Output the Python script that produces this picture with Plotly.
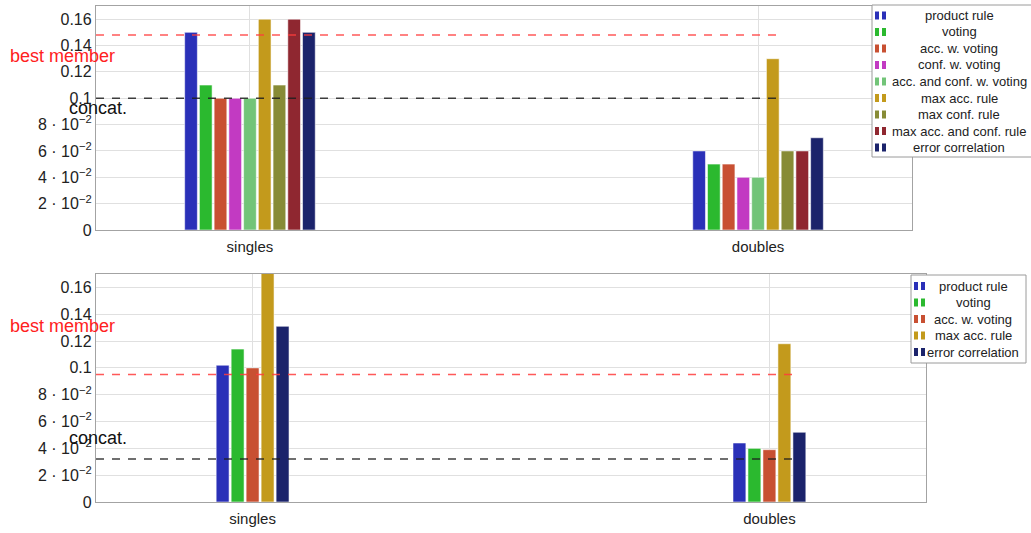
import plotly.graph_objects as go

# ---------------- data ----------------
categories = ["singles", "doubles"]

series_top = ["product rule", "voting", "acc. w. voting", "conf. w. voting",
              "acc. and conf. w. voting", "max acc. rule", "max conf. rule",
              "max acc. and conf. rule", "error correlation"]
colors_top = ["#2a30b8", "#2bb92f", "#c85032", "#c23ac2", "#72c478",
              "#c39a1c", "#878b36", "#8f2730", "#1b236b"]
top_singles = [0.15, 0.11, 0.10, 0.10, 0.10, 0.16, 0.11, 0.16, 0.15]
top_doubles = [0.06, 0.05, 0.05, 0.04, 0.04, 0.13, 0.06, 0.06, 0.07]

series_bottom = ["product rule", "voting", "acc. w. voting", "max acc. rule", "error correlation"]
colors_bottom = ["#2a30b8", "#2bb92f", "#c85032", "#c39a1c", "#1b236b"]
bottom_singles = [0.102, 0.114, 0.100, 0.18, 0.131]
bottom_doubles = [0.044, 0.040, 0.039, 0.118, 0.052]

best_member = [0.148, 0.095]   # top, bottom
concat = [0.10, 0.032]         # top, bottom

y_tickvals = [0, 0.02, 0.04, 0.06, 0.08, 0.10, 0.12, 0.14, 0.16]
y_ticktext = ["0", "2 · 10<sup>−2</sup>", "4 · 10<sup>−2</sup>", "6 · 10<sup>−2</sup>",
              "8 · 10<sup>−2</sup>", "0.1", "0.12", "0.14", "0.16"]

# ---------------- layout constants ----------------
W, H = 1031, 533
HE = 524.0          # effective vertical extent used for placing by pixel
FONT = "Liberation Sans"
PITCH = 0.029
BAR_W = 0.025
X_RANGE = [-0.303, 1.303]
LINE_END = 1.05


def px(x):
    return x / W


def py(y):
    return 1 - y / HE


fig = go.Figure()

panels = [
    (series_top, colors_top, top_singles, top_doubles, "x", "y", 0),
    (series_bottom, colors_bottom, bottom_singles, bottom_doubles, "x2", "y2", 1),
]

for names, cols, sing, doub, xa, ya, k in panels:
    n = len(names)
    for i, (nm, c) in enumerate(zip(names, cols)):
        off = -n * PITCH / 2 + i * PITCH + (PITCH - BAR_W) / 2
        fig.add_trace(go.Bar(
            x=[0, 1], y=[sing[i], doub[i]], name=nm,
            width=BAR_W, offset=off,
            marker=dict(color=c, line=dict(color="rgba(255,255,255,0.55)", width=1)),
            xaxis=xa, yaxis=ya, showlegend=False))
    fig.add_trace(go.Scatter(
        x=[X_RANGE[0], LINE_END], y=[best_member[k]] * 2, mode="lines",
        line=dict(color="rgba(255,60,60,0.85)", width=1.5, dash="8px,8px"),
        xaxis=xa, yaxis=ya, showlegend=False, hoverinfo="skip"))
    fig.add_trace(go.Scatter(
        x=[X_RANGE[0], LINE_END], y=[concat[k]] * 2, mode="lines",
        line=dict(color="rgba(30,30,30,0.85)", width=1.5, dash="8px,8px"),
        xaxis=xa, yaxis=ya, showlegend=False, hoverinfo="skip"))

axis_common = dict(showline=True, linecolor="#a3a3a3", linewidth=1.3, mirror=True,
                   showgrid=True, gridcolor="#e0e0e0", gridwidth=1, zeroline=False,
                   ticks="", tickfont=dict(family=FONT, size=16, color="#222"))
xfont = dict(family=FONT, size=15, color="#222")

fig.update_layout(
    width=W, height=H, autosize=False,
    margin=dict(l=0, r=0, t=0, b=0),
    paper_bgcolor="white", plot_bgcolor="white",
    barmode="overlay",
    xaxis=dict(domain=[px(96), px(912)], anchor="y", range=X_RANGE, ticklabelstandoff=3,
               tickvals=[0, 1], ticktext=categories, **{**axis_common, "tickfont": xfont}),
    yaxis=dict(domain=[py(230), py(6)], anchor="x", range=[0, 0.17],
               tickvals=y_tickvals, ticktext=y_ticktext, **axis_common),
    xaxis2=dict(domain=[px(96), px(926)], anchor="y2", range=X_RANGE, ticklabelstandoff=3,
                tickvals=[0, 1], ticktext=categories, **{**axis_common, "tickfont": xfont}),
    yaxis2=dict(domain=[py(502), py(274)], anchor="x2", range=[0, 0.17],
                tickvals=y_tickvals, ticktext=y_ticktext, **axis_common),
    showlegend=False,
)

# line labels
label_pos = [  # (text, color, left px, center y px)
    ("best member", "#ff2020", 8, 56),
    ("concat.", "#111", 67, 108),
    ("best member", "#ff2020", 8, 326),
    ("concat.", "#111", 67, 438),
]
for txt, c, lx, cy in label_pos:
    fig.add_annotation(text=txt, x=px(lx), y=py(cy), xref="paper", yref="paper",
                       xanchor="left", yanchor="middle", showarrow=False,
                       font=dict(family=FONT, size=18, color=c))

# custom legends (bar-style icons, centered text)
legends = [
    (series_top, colors_top, dict(x0=872, x1=1040, y0=5, y1=157, icon_x=875, text_cx=959, first=15.5)),
    (series_bottom, colors_bottom, dict(x0=911, x1=1026, y0=275, y1=363, icon_x=914, text_cx=973, first=286)),
]
ROW = 16.5
for names, cols, g in legends:
    fig.add_shape(type="rect", xref="paper", yref="paper",
                  x0=px(g["x0"]), x1=px(g["x1"]), y0=py(g["y1"]), y1=py(g["y0"]),
                  fillcolor="white", line=dict(color="#9a9a9a", width=1), layer="above")
    for i, (nm, c) in enumerate(zip(names, cols)):
        cy = g["first"] + i * ROW
        for dx in (0, 7):
            fig.add_shape(type="rect", xref="paper", yref="paper",
                          x0=px(g["icon_x"] + dx), x1=px(g["icon_x"] + dx + 4),
                          y0=py(cy + 4), y1=py(cy - 4),
                          fillcolor=c, line=dict(width=0), layer="above")
        fig.add_annotation(text=nm, x=px(g["text_cx"]), y=py(cy), xref="paper", yref="paper",
                           xanchor="center", yanchor="middle", showarrow=False,
                           font=dict(family=FONT, size=13, color="#222"))

fig.write_html("out.html", config={"responsive": False})
